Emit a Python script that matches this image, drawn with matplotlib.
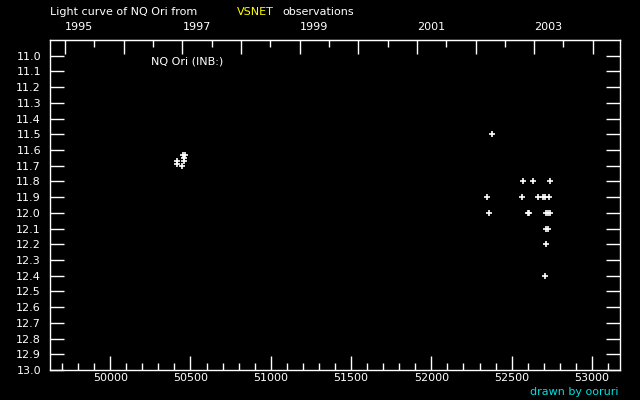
import datetime as dt
import numpy as np
import matplotlib
matplotlib.use("Agg")
import matplotlib.pyplot as plt
from matplotlib.ticker import FixedLocator, MultipleLocator, FuncFormatter

# ---- data (JD - 2400000, visual magnitude) ----
jd_1996 = [50414, 50414, 50449, 50455, 50466, 50460, 50461]
mag_1996 = [11.67, 11.69, 11.70, 11.63, 11.63, 11.65, 11.67]

jd_2002 = [52380, 52349, 52361,
           52573, 52635, 52741,
           52566, 52666, 52693, 52706, 52735,
           52602, 52611, 52716, 52728, 52741,
           52716, 52728,
           52716,
           52710]
mag_2002 = [11.5, 11.9, 12.0,
            11.8, 11.8, 11.8,
            11.9, 11.9, 11.9, 11.9, 11.9,
            12.0, 12.0, 12.0, 12.0, 12.0,
            12.1, 12.1,
            12.2,
            12.4]

years = list(range(1995, 2005))
year_labels = [str(y) if y % 2 == 1 else "" for y in years]
ytick_vals = [round(11.0 + 0.1 * i, 1) for i in range(21)]

title_main = "Light curve of NQ Ori from"
title_src = "VSNET"
title_end = "observations"
star_label = "NQ Ori (INB:)"
credit = "drawn by ooruri"

# ---- figure ----
W, H = 640, 400
fig = plt.figure(figsize=(W / 100, H / 100), dpi=100, facecolor="black")
ax = fig.add_axes([50 / W, 1 - 370 / H, 570 / W, 330 / H], facecolor="black")

jd = jd_1996 + jd_2002
mag = mag_1996 + mag_2002
ax.plot(jd, mag, linestyle="none", marker="+", color="white",
        markersize=4.0, markeredgewidth=1.2)

ax.set_xlim(49625, 53175)
ax.set_ylim(13.0, 10.9)

fs = 8
for s in ax.spines.values():
    s.set_color("white")
    s.set_linewidth(1)

ax.xaxis.set_major_locator(MultipleLocator(500))
ax.xaxis.set_minor_locator(MultipleLocator(100))
ax.xaxis.set_major_formatter(FuncFormatter(lambda v, p: f"{int(v)}"))
ax.tick_params(axis="x", which="major", direction="in", length=10, width=1,
               colors="white", labelsize=fs, pad=2.5, top=False, bottom=True)
ax.tick_params(axis="x", which="minor", direction="in", length=5, width=1,
               colors="white", top=False, bottom=True)

ax.set_yticks(ytick_vals)
ax.set_yticklabels([f"{v:.1f}" for v in ytick_vals])
ax.tick_params(axis="y", which="major", direction="in", length=10, width=1,
               colors="white", labelsize=fs, pad=6.5, left=True, right=True)

# top axis: calendar years
def jd_of(y, m, d):
    return (dt.date(y, m, d) - dt.date(1858, 11, 17)).days + 0.5

year_pos = [jd_of(y, 1, 1) for y in years]
mid_pos = [jd_of(y, 7, 2) for y in years]
sec = ax.secondary_xaxis("top")
sec.set_xticks(year_pos, labels=year_labels)
sec.xaxis.set_minor_locator(FixedLocator(mid_pos))
sec.tick_params(axis="x", which="major", direction="in", length=10, width=1,
                colors="white", labelsize=fs, pad=5.5)
sec.tick_params(axis="x", which="minor", direction="in", length=5, width=1,
                colors="white")
for lbl in sec.get_xticklabels():
    lbl.set_ha("left")
for s in sec.spines.values():
    s.set_color("white")

ax.text(50255, 11.04, star_label, color="white", fontsize=fs,
        ha="left", va="center")

fig.text(50 / W, 1 - 12 / H, title_main, color="white", fontsize=fs,
         ha="left", va="center")
fig.text(237 / W, 1 - 12 / H, title_src, color="#ffff00", fontsize=fs,
         ha="left", va="center")
fig.text(282 / W, 1 - 12 / H, title_end, color="white", fontsize=fs,
         ha="left", va="center")
fig.text(618 / W, 1 - 392 / H, credit, color="#00e0e0", fontsize=fs,
         ha="right", va="center")

fig.savefig("out.png", dpi=100, facecolor="black")
